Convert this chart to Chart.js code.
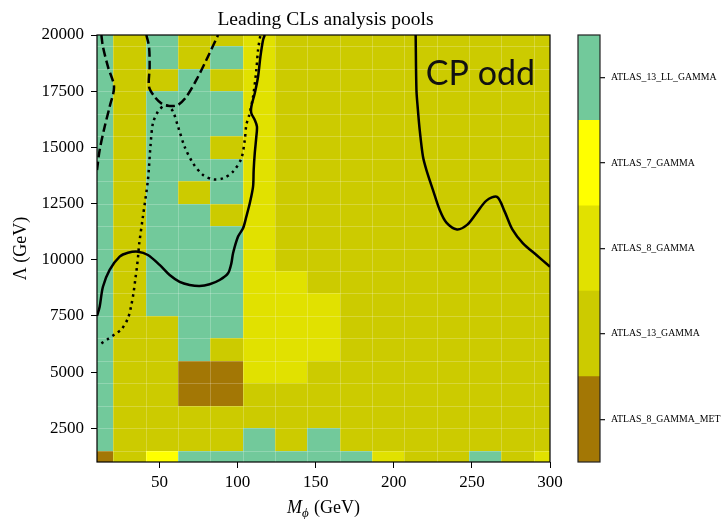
<!DOCTYPE html>
<html>
<head>
<meta charset="utf-8">
<script src="https://cdn.jsdelivr.net/npm/chart.js@4.4.0/dist/chart.umd.min.js"></script>
<style>
  html, body { margin: 0; padding: 0; background: #fff; }
  #wrap { position: relative; width: 723px; height: 519px; }
  #wrap canvas { position: absolute; left: 0; top: 0; }
</style>
</head>
<body>
<div id="wrap">
  <canvas id="poolMap" width="723" height="519"></canvas>
  <canvas id="poolBar" width="723" height="519"></canvas>
</div>
<script>
// pools, bottom of the colour bar first
const poolNames = ['ATLAS_8_GAMMA_MET', 'ATLAS_13_GAMMA', 'ATLAS_8_GAMMA', 'ATLAS_7_GAMMA', 'ATLAS_13_LL_GAMMA'];
const poolColors = ['#a37705', '#cccb00', '#e1e100', '#ffff00', '#72c99b'];
const poolCodes = ['B', 'O', 'E', 'Y', 'T'];

// scan grid
const massPoints = [10, 30.71, 51.43, 72.14, 92.86, 113.57, 134.29, 155, 175.71, 196.43, 217.14, 237.86, 258.57, 279.29, 300];
const lambdaPoints = [20000, 19000, 18000, 17000, 16000, 15000, 14000, 13000, 12000, 11000,
  10000, 9000, 8000, 7000, 6000, 5000, 4000, 3000, 2000, 1000];

// leading pool per grid point, one string per lambda row, one letter per mass column
const leadingPool = [
  'TOTOOEOOOOOOOOO',
  'TOTOTEOOOOOOOOO',
  'TOOTOEOOOOOOOOO',
  'TOTTTEOOOOOOOOO',
  'TOTTTEOOOOOOOOO',
  'TOTTOEOOOOOOOOO',
  'TOTTTEOOOOOOOOO',
  'TOTOTEOOOOOOOOO',
  'TOTTOEOOOOOOOOO',
  'TOTTTEOOOOOOOOO',
  'TOTTTEOOOOOOOOO',
  'TOTTTEEOOOOOOOO',
  'TOTTTEEEOOOOOOO',
  'TOOTTEEEOOOOOOO',
  'TOOTOEEEOOOOOOO',
  'TOOBBEEOOOOOOOO',
  'TOOBBOOOOOOOOOO',
  'TOOOOOOOOOOOOOO',
  'TOOOOTOTOOOOOOO',
  'BOYTTTTTTEOOTOE'
];

const massTicks = [50, 100, 150, 200, 250, 300];
const lambdaTicks = [2500, 5000, 7500, 10000, 12500, 15000, 17500, 20000];

// exclusion contours, [mass, lambda]
const solidLeft = [[10, 7500], [11.7, 7910], [13.8, 8800], [18.1, 9550], [24.5, 10140], [29.8, 10310],
  [36.2, 10360], [42.6, 10210], [50.1, 9770], [56.5, 9320], [62.9, 9020], [69.3, 8880], [75.7, 8830],
  [82.1, 8910], [88.5, 9100], [93.9, 9400], [96.0, 9840], [97.1, 10290], [100.3, 11030], [103.5, 11400],
  [105.6, 11920], [107.8, 12510], [109.9, 13250], [110.3, 13990], [111.0, 14740], [112.0, 15480],
  [112.4, 15920], [111.0, 16220], [108.8, 16520], [108.8, 16810], [111.0, 17410], [113.1, 18140],
  [114.6, 19030], [116.3, 19780], [117.4, 20000]];
const solidRight = [[214.0, 20000], [214.5, 17550], [215.4, 16700], [216.6, 15770], [218.7, 14580],
  [220.9, 13990], [225.1, 13100], [229.4, 12210], [233.7, 11650], [240.5, 11350], [246.9, 11550],
  [252.9, 12070], [259.3, 12630], [266.1, 12800], [271.0, 12140], [275.9, 11350], [282.7, 10730],
  [291.3, 10210], [300, 9690]];
const dashedLeft = [[12.8, 20000], [13.8, 19480], [17.0, 18590], [20.9, 17700], [18.1, 16810],
  [14.9, 15920], [11.7, 14880], [10, 13990]];
const dashedMid = [[41.6, 20000], [43.3, 19480], [43.7, 18590], [43.3, 17700], [46.9, 17250],
  [51.2, 16960], [56.5, 16840], [61.9, 16890], [67.2, 17250], [73.6, 18000], [80.0, 18890], [87.5, 20000]];
const dotted = [[12.8, 6280], [17.0, 6470], [21.3, 6680], [25.6, 6900], [29.8, 7390], [32.0, 7990],
  [33.5, 8580], [34.6, 9170], [35.6, 9690], [36.5, 10290], [36.9, 10650], [39.4, 11920], [42.6, 13550],
  [44.2, 15030], [45.8, 16070], [49.0, 16590], [52.7, 16840], [55.5, 16840], [58.7, 16590], [61.9, 15920],
  [66.1, 15030], [71.5, 14290], [77.9, 13770], [84.3, 13580], [90.7, 13620], [97.1, 13920], [102.4, 14510],
  [104.6, 15330], [105.6, 16000], [107.3, 16400], [109.9, 17250], [112.0, 18440], [113.1, 19330], [114.6, 20000]];

const serif = 'Liberation Serif';

// cell edges halfway between grid points, clamped to the axis range
function edgesOf(centres, first, last) {
  const e = [first];
  for (let i = 0; i < centres.length - 1; i++) e.push((centres[i] + centres[i + 1]) / 2);
  e.push(last);
  return e;
}

const cellPlugin = {
  id: 'poolCells',
  beforeDatasetsDraw(chart) {
    const {ctx, chartArea: a, scales: {x, y}} = chart;
    const xEdges = edgesOf(massPoints, x.min, x.max);
    const yEdges = edgesOf(lambdaPoints, y.max, y.min);
    ctx.save();
    ctx.beginPath();
    ctx.rect(a.left, a.top, a.width, a.height);
    ctx.clip();
    leadingPool.forEach((row, r) => {
      const top = Math.round(y.getPixelForValue(yEdges[r]));
      const bottom = Math.round(y.getPixelForValue(yEdges[r + 1]));
      [...row].forEach((code, c) => {
        const left = Math.round(x.getPixelForValue(xEdges[c]));
        const right = Math.round(x.getPixelForValue(xEdges[c + 1]));
        ctx.fillStyle = poolColors[poolCodes.indexOf(code)];
        ctx.fillRect(left, top, right - left, bottom - top);
      });
    });
    // faint cell borders
    ctx.strokeStyle = 'rgba(255,255,255,0.22)';
    ctx.lineWidth = 1;
    ctx.beginPath();
    xEdges.slice(1, -1).forEach(v => {
      const p = Math.round(x.getPixelForValue(v)) + 0.5;
      ctx.moveTo(p, a.top); ctx.lineTo(p, a.bottom);
    });
    yEdges.slice(1, -1).forEach(v => {
      const p = Math.round(y.getPixelForValue(v)) + 0.5;
      ctx.moveTo(a.left, p); ctx.lineTo(a.right, p);
    });
    ctx.stroke();
    ctx.restore();
  },
  afterDraw(chart) {
    const {ctx, chartArea: a, scales: {x, y}} = chart;
    const cx = (a.left + a.right) / 2;
    ctx.save();
    ctx.strokeStyle = '#000';
    ctx.lineWidth = 1.2;
    ctx.strokeRect(a.left, a.top, a.width, a.height);

    ctx.fillStyle = '#000';
    ctx.textAlign = 'center';
    ctx.textBaseline = 'alphabetic';
    ctx.font = `19.5px "${serif}"`;
    ctx.fillText('Leading CLs analysis pools', cx + 2, 25);

    // x axis label with subscript
    const big = `italic 18px "${serif}"`, sub = `italic 13px "${serif}"`, rom = `18px "${serif}"`;
    ctx.textAlign = 'left';
    ctx.font = big; const wM = ctx.measureText('M').width;
    ctx.font = sub; const wP = ctx.measureText('ϕ').width;
    ctx.font = rom; const wG = ctx.measureText(' (GeV)').width;
    let sx = cx - (wM + wP + 1 + wG) / 2;
    ctx.font = big; ctx.fillText('M', sx, 513); sx += wM;
    ctx.font = sub; ctx.fillText('ϕ', sx, 517); sx += wP + 1;
    ctx.font = rom; ctx.fillText(' (GeV)', sx, 513);

    // y axis label
    ctx.translate(21, (a.top + a.bottom) / 2);
    ctx.rotate(-Math.PI / 2);
    ctx.textAlign = 'center';
    ctx.textBaseline = 'middle';
    ctx.font = `18px "${serif}"`;
    ctx.fillText('Λ (GeV)', 0, 0);
    ctx.restore();

    ctx.save();
    ctx.fillStyle = '#111';
    ctx.font = '34px Lato';
    ctx.textBaseline = 'alphabetic';
    ctx.fillText('CP odd', x.getPixelForValue(220.5), y.getPixelForValue(17775));
    ctx.restore();
  }
};

function contour(points, dash) {
  return {
    data: points.map(([x, y]) => ({x, y})),
    showLine: true,
    pointRadius: 0,
    borderColor: '#000',
    borderWidth: 2.5,
    borderDash: dash,
    borderCapStyle: 'butt',
    tension: 0.3,
    fill: false
  };
}

const tickFont = {family: serif, size: 17};

new Chart(document.getElementById('poolMap'), {
  type: 'scatter',
  data: {
    datasets: [
      contour(solidLeft, []),
      contour(solidRight, []),
      contour(dashedLeft, [9, 4]),
      contour(dashedMid, [9, 4]),
      contour(dotted, [2.5, 4.1])
    ]
  },
  options: {
    responsive: false,
    animation: false,
    devicePixelRatio: 1,
    layout: {padding: {left: 0, top: 35, right: 173, bottom: 0}},
    plugins: {legend: {display: false}, tooltip: {enabled: false}},
    scales: {
      x: {
        type: 'linear', min: 10, max: 300,
        afterBuildTicks: ax => { ax.ticks = massTicks.map(v => ({value: v})); },
        afterFit: ax => { ax.height = 57; },
        grid: {drawOnChartArea: false, drawTicks: true, tickLength: 6, color: '#000'},
        border: {display: false},
        ticks: {font: tickFont, color: '#000', padding: 4, maxRotation: 0, autoSkip: false, callback: v => String(v)}
      },
      y: {
        type: 'linear', min: 1000, max: 20000,
        afterBuildTicks: ax => { ax.ticks = lambdaTicks.map(v => ({value: v})); },
        afterFit: ax => { ax.width = 97; },
        grid: {drawOnChartArea: false, drawTicks: true, tickLength: 6, color: '#000'},
        border: {display: false},
        ticks: {font: tickFont, color: '#000', padding: 7, autoSkip: false, callback: v => String(v)}
      }
    }
  },
  plugins: [cellPlugin]
});

// colour bar
const barFrame = {
  id: 'barFrame',
  afterDraw(chart) {
    const {ctx, chartArea: a} = chart;
    ctx.save();
    ctx.strokeStyle = '#222';
    ctx.lineWidth = 1.2;
    ctx.strokeRect(a.left, a.top, a.width, a.height);
    ctx.restore();
  }
};

new Chart(document.getElementById('poolBar'), {
  type: 'bar',
  data: {
    labels: [''],
    datasets: poolNames.map((name, i) => ({
      label: name,
      data: [1],
      backgroundColor: poolColors[i],
      borderWidth: 0,
      barPercentage: 1,
      categoryPercentage: 1
    }))
  },
  options: {
    responsive: false,
    animation: false,
    devicePixelRatio: 1,
    layout: {padding: {left: 578, top: 35, right: 0, bottom: 57}},
    plugins: {legend: {display: false}, tooltip: {enabled: false}},
    scales: {
      x: {stacked: true, display: false},
      y: {
        stacked: true, position: 'right', min: 0, max: poolNames.length,
        afterBuildTicks: ax => { ax.ticks = poolNames.map((_, i) => ({value: i + 0.5})); },
        afterFit: ax => { ax.width = 123; },
        grid: {drawOnChartArea: false, drawTicks: true, tickLength: 5, lineWidth: 1.3, color: '#222'},
        border: {display: false},
        ticks: {
          font: {family: serif, size: 9.8}, color: '#000', padding: 6, autoSkip: false,
          callback: v => poolNames[Math.floor(v)]
        }
      }
    }
  },
  plugins: [barFrame]
});
</script>
</body>
</html>
